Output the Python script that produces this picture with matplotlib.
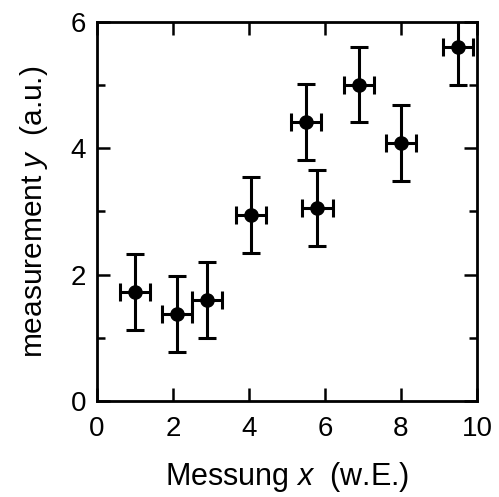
import matplotlib.pyplot as plt

# data
x = [1.0, 2.1, 2.9, 4.05, 5.5, 5.8, 6.9, 8.0, 9.5]
y = [1.72, 1.38, 1.60, 2.95, 4.42, 3.06, 5.01, 4.09, 5.60]
xerr = [0.4, 0.4, 0.4, 0.4, 0.4, 0.4, 0.4, 0.4, 0.4]
yerr = [0.6, 0.6, 0.6, 0.6, 0.6, 0.6, 0.6, 0.6, 0.6]

xticks = [0, 2, 4, 6, 8, 10]
yticks = [0, 2, 4, 6]
yminor = [1, 3, 5]

plt.rcParams['font.family'] = ['Liberation Sans', 'DejaVu Sans']
plt.rcParams['mathtext.fontset'] = 'custom'
plt.rcParams['mathtext.it'] = 'Liberation Sans:italic'
plt.rcParams['mathtext.rm'] = 'Liberation Sans'

fig = plt.figure(figsize=(4.99, 4.97), dpi=100)
ax = fig.add_axes([0.1944, 0.1932, 0.7615, 0.7625])

ax.errorbar(x, y, xerr=xerr, yerr=yerr, fmt='o', color='black',
            markersize=9.5, elinewidth=2.2, capsize=6.8, capthick=2.2)

ax.set_xlim(0, 10)
ax.set_ylim(0, 6)
ax.set_xticks(xticks)
ax.set_yticks(yticks)
ax.set_yticks(yminor, minor=True)

for s in ax.spines.values():
    s.set_linewidth(2)
ax.tick_params(which='major', direction='in', top=True, right=True,
               length=9.4, width=1.8, labelsize=20)
ax.tick_params(which='minor', direction='in', right=True, length=5.8, width=1.8)
ax.tick_params(axis='x', pad=11)
ax.tick_params(axis='y', pad=8)

ax.set_xlabel('Messung $x$  (w.E.)', fontsize=22, labelpad=13)
ax.set_ylabel('measurement $y$  (a.u.)', fontsize=21.5, labelpad=15)

fig.savefig('out.png', dpi=100)
